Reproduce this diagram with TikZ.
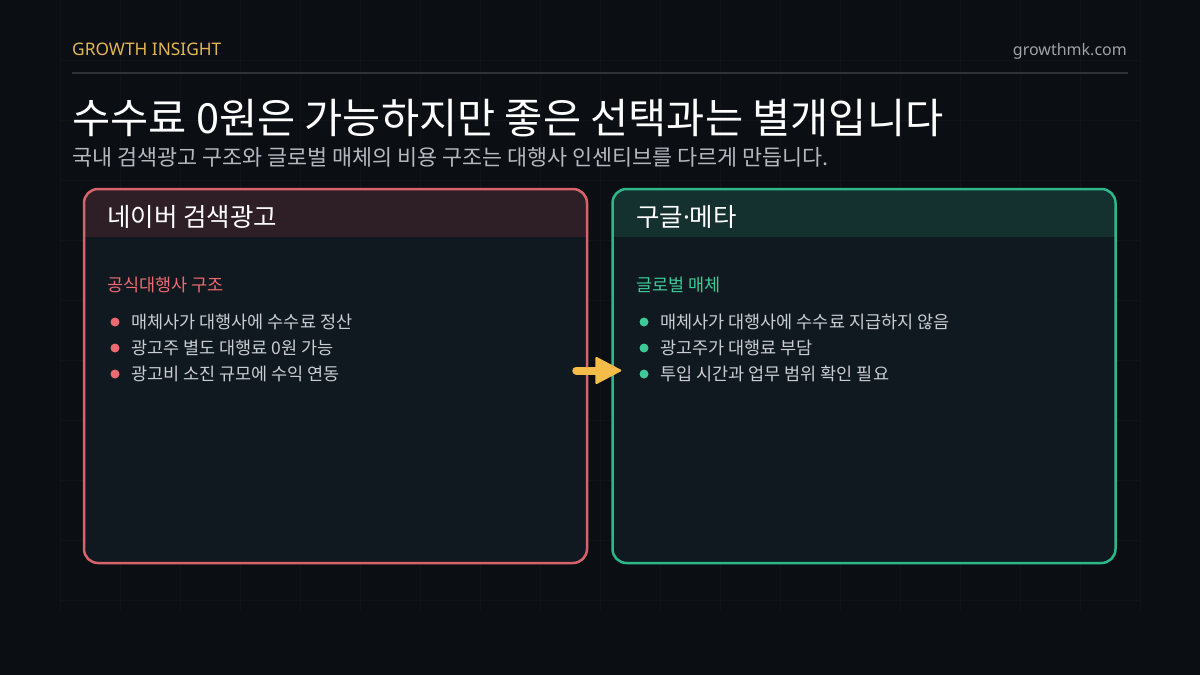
\documentclass[tikz,border=0pt]{standalone}
\usepackage{fontspec}
\setmainfont{Noto Sans CJK KR}
\newfontfamily\latinfont{Noto Sans}
\usetikzlibrary{arrows.meta}
\definecolor{bgc}{HTML}{0B0E13}
\definecolor{gridc}{HTML}{10141A}
\definecolor{rulegray}{HTML}{2E3339}
\definecolor{goldc}{HTML}{E3B553}
\definecolor{urlgray}{HTML}{9EA4AA}
\definecolor{subgray}{HTML}{B4B9BF}
\definecolor{itemgray}{HTML}{C9CDD2}
\definecolor{boxfill}{HTML}{111920}
\definecolor{naverhead}{HTML}{2D1F25}
\definecolor{naverred}{HTML}{D9636B}
\definecolor{navertxt}{HTML}{EC6A70}
\definecolor{metahead}{HTML}{14302F}
\definecolor{metagreen}{HTML}{2DB889}
\definecolor{metatxt}{HTML}{3CCB96}
\definecolor{arrowgold}{HTML}{F4BD4A}

\begin{document}
\begin{tikzpicture}[x=1pt,y=-1pt,
	panel/.style={minimum width=503pt,minimum height=374pt,rounded corners=14pt,line width=2.5pt,fill=boxfill},
	headtxt/.style={anchor=west,inner sep=0pt,text=white,font=\fontsize{25.5}{30}\selectfont},
	tagtxt/.style={anchor=west,inner sep=0pt,font=\fontsize{17.5}{21}\selectfont},
	itemtxt/.style={anchor=west,inner sep=0pt,text=itemgray,font=\fontsize{17.5}{21}\selectfont},
	flow/.style={arrowgold,line width=8pt,line cap=round,-{Triangle[length=27pt,width=28pt,line width=2pt,round]}}]
			\useasboundingbox (0,0) rectangle (1200,675);
			\fill[bgc] (0,0) rectangle (1200,675);
			\foreach \gx in {60,120,...,1140} \draw[gridc] (\gx,0) -- (\gx,610);
			\foreach \gy in {60,120,...,600} \draw[gridc] (60,\gy) -- (1140,\gy);
			\node[anchor=base west,inner sep=0pt,text=goldc,font=\latinfont\fontsize{17.3}{20}\selectfont] (brand) at (72,55) {GROWTH INSIGHT};
			\node[anchor=base east,inner sep=0pt,text=urlgray,font=\latinfont\fontsize{16}{20}\selectfont] (site) at (1127,55) {growthmk.com};
			\draw[rulegray,line width=2pt] (72,73) -- (1128,73);
			\node[anchor=west,inner sep=0pt,text=white,font=\fontsize{41.5}{48}\selectfont] (title) at (72,118) {수수료 0원은 가능하지만 좋은 선택과는 별개입니다};
			\node[anchor=west,inner sep=0pt,text=subgray,font=\fontsize{21.8}{26}\selectfont] (subtitle) at (72,157) {국내 검색광고 구조와 글로벌 매체의 비용 구조는 대행사 인센티브를 다르게 만듭니다.};
			\node[panel,draw=naverred,path picture={\fill[naverhead,sharp corners] (path picture bounding box.north west) rectangle ([yshift=-48pt]path picture bounding box.north east);}] (naver) at (335.5,376) {};
			\node[panel,draw=metagreen,path picture={\fill[metahead,sharp corners] (path picture bounding box.north west) rectangle ([yshift=-48pt]path picture bounding box.north east);}] (meta) at (864,376) {};
			\node[headtxt] (navertitle) at (107,217) {네이버 검색광고};
			\node[headtxt] (metatitle) at (636,217) {구글{\latinfont ·}메타};
			\node[tagtxt,text=navertxt] (navertag) at (107,285) {공식대행사 구조};
			\node[tagtxt,text=metatxt] (metatag) at (636,285) {글로벌 매체};
			\foreach \t [count=\i] in {매체사가 대행사에 수수료 정산, 광고주 별도 대행료 0원 가능, 광고비 소진 규모에 수익 연동} {
				\fill[navertxt] (115,296+26*\i) circle (4.5pt);
				\node[itemtxt] (naveritem\i) at (131,296+26*\i) {\t};
			}
			\foreach \t [count=\i] in {매체사가 대행사에 수수료 지급하지 않음, 광고주가 대행료 부담, 투입 시간과 업무 범위 확인 필요} {
				\fill[metatxt] (644,296+26*\i) circle (4.5pt);
				\node[itemtxt] (metaitem\i) at (660,296+26*\i) {\t};
			}
			\draw[flow] ([xshift=-12pt,yshift=5.5pt]naver.east) -- ([xshift=10pt,yshift=5.5pt]meta.west);
		\end{tikzpicture}
\end{document}
